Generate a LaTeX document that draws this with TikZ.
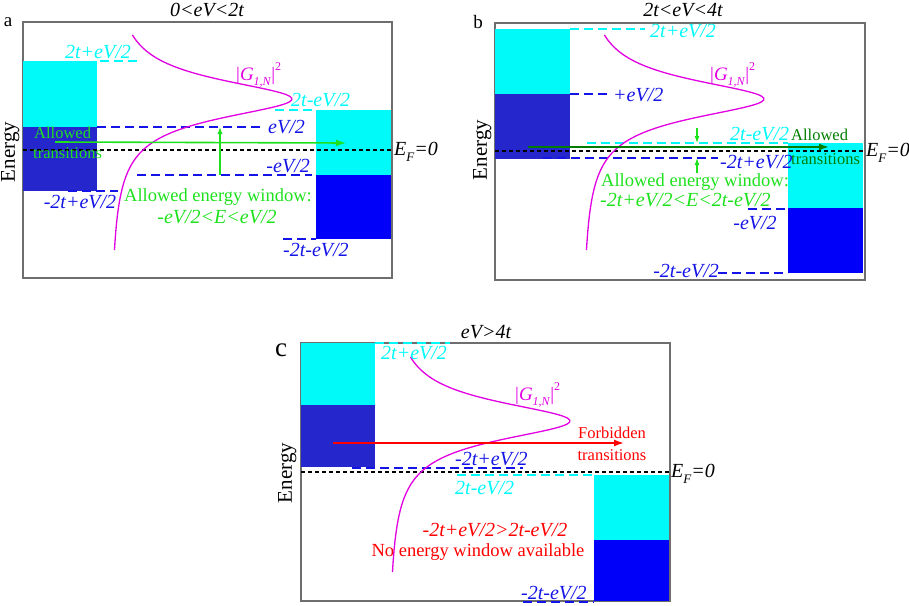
\documentclass[tikz,border=0pt]{standalone}
\usepackage{fontspec}
\setmainfont{Liberation Serif}
\usetikzlibrary{arrows.meta}
\definecolor{cyn}{RGB}{0,250,250}
\definecolor{dotblue}{RGB}{38,38,205}
\definecolor{solidblue}{RGB}{0,0,250}
\definecolor{lvlblue}{RGB}{20,20,230}
\definecolor{mag}{RGB}{225,0,225}
\definecolor{lgreen}{RGB}{30,225,30}
\definecolor{dgreen}{RGB}{0,125,0}
\definecolor{frm}{RGB}{110,110,110}
\newcommand\glnlab{|\textit{G}\raisebox{-0.6ex}{\fontsize{12}{12}\selectfont\textit{1,N}}|\raisebox{1.1ex}{\fontsize{12}{12}\selectfont 2}}
\newcommand\eflab{\textit{E}\raisebox{-0.6ex}{\fontsize{13}{13}\selectfont\textit{F}}\textit{=0}}
\tikzset{
  frame/.style={draw=frm, line width=1.3pt},
  lvlb/.style={lvlblue, line width=2pt, dash pattern=on 9pt off 5pt},
  lvlc/.style={cyn, line width=2pt, dash pattern=on 9pt off 5pt},
  efline/.style={black, line width=1.1pt, dash pattern=on 4pt off 3pt},
  gcurve/.style={mag, line width=1.3pt},
  lab/.style={font=\fontsize{20}{22}\selectfont\itshape, inner sep=0pt},
  txt/.style={font=\fontsize{16.5}{20}\selectfont, inner sep=0pt},
  bigtxt/.style={font=\fontsize{18.5}{22}\selectfont, inner sep=0pt},
  energylab/.style={font=\fontsize{21}{24}\selectfont, rotate=90, inner sep=0pt},
  panellab/.style={font=\fontsize{19}{20}\selectfont, inner sep=0pt},
  titlelab/.style={font=\fontsize{20}{22}\selectfont\itshape, inner sep=0pt},
  maglab/.style={mag, font=\fontsize{19}{20}\selectfont, inner sep=0pt, anchor=west},
  bigarrow/.style={line width=1.6pt, -{Latex[length=10pt,width=7pt]}},
  smallarrow/.style={line width=1.1pt, -{Latex[length=7pt,width=5pt]}},
}
\begin{document}
\begin{tikzpicture}[x=1pt,y=-1pt]
\useasboundingbox (0,0) rectangle (909,605);

%================ PANEL A =================
\draw[frame] (23,22) rectangle (392,278);
\fill[cyn] (23,61) rectangle (97,127);
\fill[dotblue] (23,127) rectangle (97,191);
\fill[cyn] (316,110) rectangle (391,175);
\fill[solidblue] (316,175) rectangle (391,239);
\draw[lvlc] (100,61) -- (137,61);
\draw[lvlb] (97,127) -- (263,127);
\draw[lvlc] (275,110) -- (316,110);
\draw[lvlb] (137,175) -- (312,175);
\draw[lvlb] (68,191) -- (118,191);
\draw[lvlb] (283,239) -- (316,239);
\draw[efline] (23,150) -- (392,150);
\draw[gcurve] plot[domain=35:250, samples=120, smooth] ({110+182/(1+((\x-99)/24)^2)}, \x);
\coordinate (aArS) at (55,142);
\coordinate (aArE) at (346,143);
\draw[lgreen, bigarrow] (aArS) -- (aArE);
\coordinate (aWinT) at (220,127);
\coordinate (aWinB) at (220,175);
\draw[lgreen, smallarrow, {Latex[length=7pt,width=5pt]}-] (aWinT) -- (aWinB);
\node[panellab] (alab) at (8,22) {a};
\node[titlelab] (atitle) at (207,10) {0<eV<2t};
\node[lab, cyn] (a1) at (98,52) {2t+eV/2};
\node[lab, lvlblue, anchor=west] (a2) at (268,127) {eV/2};
\node[lab, cyn, anchor=west] (a3) at (291,100) {2t-eV/2};
\node[lab, lvlblue, anchor=east] (a4) at (310,166) {-eV/2};
\node[lab, lvlblue] (a5) at (80,202) {-2t+eV/2};
\node[lab, lvlblue, anchor=west] (a6) at (283,250) {-2t-eV/2};
\node[lab, black, anchor=west] (aef) at (394,152) {\eflab};
\node[maglab] (ag) at (236,75) {\glnlab};
\node[txt, lgreen, anchor=west] (aall1) at (34,133) {Allowed};
\node[txt, lgreen, anchor=west] (aall2) at (33,153) {transitions};
\node[bigtxt, lgreen] (awin1) at (218,197) {Allowed energy window:};
\node[lab, lgreen] (awin2) at (217,217) {-eV/2<E<eV/2};
\node[energylab, anchor=north] (aen) at (1,152) {Energy};

%================ PANEL B =================
\draw[frame] (495,23) rectangle (865,280);
\fill[cyn] (495,29) rectangle (570,94);
\fill[dotblue] (495,94) rectangle (570,159);
\fill[cyn] (788,143) rectangle (863,208);
\fill[solidblue] (788,208) rectangle (863,273);
\draw[lvlc] (570,29) -- (645,29);
\draw[lvlb] (570,94) -- (607,94);
\draw[lvlc] (587,143) -- (788,143);
\draw[lvlb] (543,158) -- (718,158);
\draw[lvlb] (748,209) -- (788,209);
\draw[lvlb] (718,273) -- (788,273);
\draw[efline] (495,151) -- (865,151);
\draw[gcurve] plot[domain=35:250, samples=120, smooth] ({582+182/(1+((\x-99)/24)^2)}, \x);
\coordinate (bArS) at (528,147);
\coordinate (bArE) at (829,147);
\draw[dgreen, bigarrow] (bArS) -- (bArE);
\coordinate (bDnS) at (697,128);
\coordinate (bDnE) at (697,143);
\draw[lgreen, smallarrow] (bDnS) -- (bDnE);
\coordinate (bUpS) at (697,173);
\coordinate (bUpE) at (697,158);
\draw[lgreen, smallarrow] (bUpS) -- (bUpE);
\node[panellab] (blab) at (478,22) {b};
\node[titlelab] (btitle) at (683,10) {2t<eV<4t};
\node[lab, cyn, anchor=west] (b1) at (650,31) {2t+eV/2};
\node[lab, lvlblue, anchor=west] (b2) at (613,95) {+eV/2};
\node[lab, cyn, anchor=west] (b3) at (730,134) {2t-eV/2};
\node[lab, lvlblue, anchor=west] (b4) at (720,162) {-2t+eV/2};
\node[lab, lvlblue] (b5) at (755,223) {-eV/2};
\node[lab, lvlblue, anchor=east] (b6) at (719,271) {-2t-eV/2};
\node[lab, black, anchor=west] (bef) at (866,153) {\eflab};
\node[maglab] (bg) at (710,75) {\glnlab};
\node[txt, dgreen, anchor=west] (ball1) at (791,135) {Allowed};
\node[txt, dgreen, anchor=west] (ball2) at (791,159) {transitions};
\node[bigtxt, lgreen, anchor=west] (bwin1) at (601,182) {Allowed energy window:};
\node[lab, lgreen, anchor=west] (bwin2) at (600,200) {-2t+eV/2<E<2t-eV/2};
\node[energylab, anchor=north] (ben) at (473,150) {Energy};

%================ PANEL C =================
\draw[frame] (301,343) rectangle (670,601);
\fill[cyn] (301,343) rectangle (375,405);
\fill[dotblue] (301,405) rectangle (375,467);
\fill[cyn] (594,475) rectangle (669,540);
\fill[solidblue] (594,540) rectangle (669,601);
\draw[lvlc] (375,343) -- (450,343);
\draw[lvlb] (352,468) -- (523,468);
\draw[efline] (301,472) -- (670,472);
\draw[lvlc] (457,475) -- (594,475);
\draw[lvlb] (523,602) -- (594,602);
\draw[gcurve] plot[domain=357:572, samples=120, smooth] ({388+182/(1+((\x-421)/24)^2)}, \x);
\coordinate (cArS) at (333,443);
\coordinate (cArE) at (624,443);
\draw[red, bigarrow] (cArS) -- (cArE);
\node[font=\fontsize{27}{28}\selectfont, inner sep=0pt] (clab) at (281,350) {c};
\node[titlelab] (ctitle) at (486,332) {eV>4t};
\node[lab, cyn, anchor=west] (c1) at (381,353) {2t+eV/2};
\node[lab, lvlblue, anchor=west] (c2) at (455,459) {-2t+eV/2};
\node[lab, cyn, anchor=west] (c3) at (455,488) {2t-eV/2};
\node[lab, lvlblue, anchor=west] (c4) at (521,593) {-2t-eV/2};
\node[lab, black, anchor=west] (cef) at (671,474) {\eflab};
\node[maglab] (cg) at (515,395) {\glnlab};
\node[txt, red] (cfor1) at (612,433) {Forbidden};
\node[txt, red] (cfor2) at (612,455) {transitions};
\node[lab, red] (cw1) at (495,530) {-2t+eV/2>2t-eV/2};
\node[bigtxt, red] (cw2) at (478,552) {No energy window available};
\node[energylab, anchor=north] (cen) at (278,473) {Energy};
\end{tikzpicture}
\end{document}
